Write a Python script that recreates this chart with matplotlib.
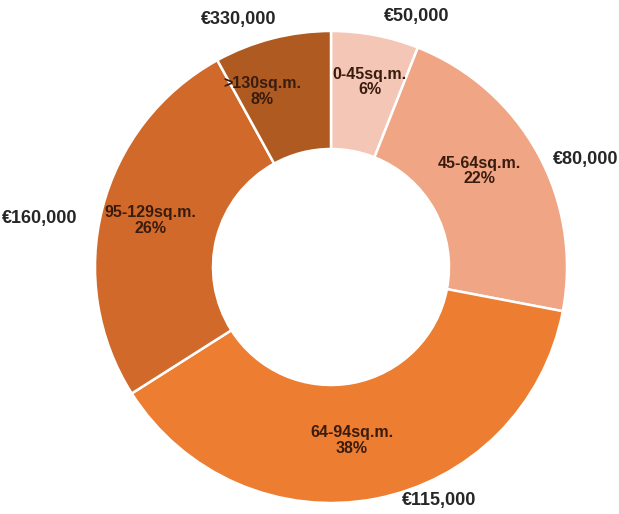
import numpy as np
import matplotlib.pyplot as plt

plt.rcParams['font.family'] = ['Liberation Sans', 'DejaVu Sans']

sizes = ['0-45sq.m.', '45-64sq.m.', '64-94sq.m.', '95-129sq.m.', '>130sq.m.']
shares = [6, 22, 38, 26, 8]
prices = ['€50,000', '€80,000', '€115,000', '€160,000', '€330,000']
colors = ['#F4C6B6', '#F0A584', '#ED7D31', '#D0692A', '#AE5A21']

fig = plt.figure(figsize=(6.19, 5.14), dpi=100)
ax = fig.add_axes([95 / 619, 11 / 514, 472 / 619, 472 / 514])

wedges, _ = ax.pie(shares, colors=colors, startangle=90, counterclock=False,
                   wedgeprops={'width': 0.5, 'edgecolor': 'white', 'linewidth': 1.8})

# tweaks for where the labels sit (angle offset in degrees, radius)
inner_off = [(-1, 0.80), (4, 0.75), (-4, 0.74), (0, 0.79), (7, 0.80)]
outer_off = [(-8, 1.12), (-6, 1.17), (14, 1.09), (5, 1.25), (6, 1.12)]

for w, name, pct, price, (da, r), (da2, r2) in zip(wedges, sizes, shares, prices,
                                                   inner_off, outer_off):
    mid = np.deg2rad((w.theta1 + w.theta2) / 2 + da)
    ax.text(r * np.cos(mid), r * np.sin(mid), f'{name}\n{pct}%', ha='center', va='center',
            fontsize=11.5, fontweight='bold', color='#3A1C0E', linespacing=1.05)
    mid2 = np.deg2rad((w.theta1 + w.theta2) / 2 + da2)
    ax.text(r2 * np.cos(mid2), r2 * np.sin(mid2), price, ha='center', va='center',
            fontsize=13, fontweight='bold', color='#262626')

ax.set_xlim(-1, 1)
ax.set_ylim(-1, 1)
ax.set_aspect('equal')
ax.axis('off')

fig.savefig('out.png', dpi=100)
